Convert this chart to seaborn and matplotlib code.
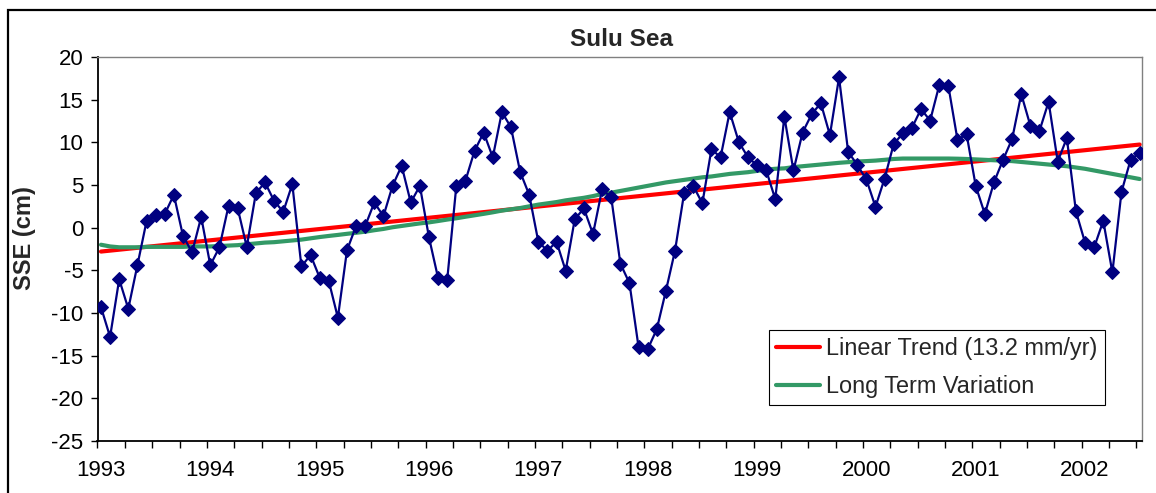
import numpy as np
import pandas as pd
import matplotlib
matplotlib.use("Agg")
import matplotlib.pyplot as plt
from matplotlib.patches import Rectangle
from matplotlib.ticker import FixedLocator
import seaborn as sns

# Monthly sea surface elevation anomaly, Sulu Sea, Jan 1993 - Jul 2002 (cm)
sse_cm = [
    -9.3, -12.8, -6.05, -9.5, -4.4, 0.75, 1.45, 1.6, 3.85, -0.95, -2.9, 1.25,
    -4.4, -2.3, 2.55, 2.3, -2.25, 4.05, 5.3, 3.15, 1.85, 5.1, -4.55, -3.2,
    -5.85, -6.25, -10.55, -2.65, 0.2, 0.2, 2.95, 1.35, 4.9, 7.25, 2.95, 4.9,
    -1.15, -5.9, -6.1, 4.9, 5.5, 9.0, 11.15, 8.25, 13.55, 11.75, 6.55, 3.85,
    -1.65, -2.7, -1.65, -5.05, 1.0, 2.25, -0.75, 4.5, 3.55, -4.2, -6.5, -14.0,
    -14.25, -11.9, -7.4, -2.7, 4.05, 4.9, 2.85, 9.2, 8.25, 13.55, 10.05, 8.25,
    7.3, 6.75, 3.35, 13.0, 6.7, 11.15, 13.3, 14.6, 10.85, 17.6, 8.9, 7.35,
    5.65, 2.45, 5.75, 9.8, 11.05, 11.7, 13.9, 12.55, 16.7, 16.6, 10.3, 10.95,
    4.9, 1.6, 5.3, 7.95, 10.4, 15.65, 11.95, 11.35, 14.75, 7.75, 10.5, 1.9,
    -1.75, -2.3, 0.8, -5.25, 4.2, 7.95, 8.8,
]

# Low-pass filtered (long term) component of the same record (cm)
long_term_cm = [
    -2.0, -2.2, -2.3, -2.3, -2.3, -2.25, -2.25, -2.25, -2.25, -2.25, -2.2, -2.2,
    -2.2, -2.15, -2.1, -2.05, -1.95, -1.85, -1.75, -1.7, -1.6, -1.5, -1.4, -1.25,
    -1.1, -0.97, -0.85, -0.72, -0.6, -0.47, -0.3, -0.15, 0.05, 0.2, 0.35, 0.5,
    0.62, 0.78, 0.95, 1.1, 1.28, 1.45, 1.62, 1.8, 2.0, 2.15, 2.3, 2.5,
    2.7, 2.85, 3.0, 3.2, 3.35, 3.5, 3.7, 3.95, 4.1, 4.3, 4.5, 4.7,
    4.9, 5.1, 5.3, 5.45, 5.6, 5.75, 5.9, 6.0, 6.15, 6.3, 6.4, 6.5,
    6.65, 6.8, 6.9, 6.95, 7.1, 7.2, 7.3, 7.4, 7.5, 7.6, 7.68, 7.75,
    7.8, 7.86, 7.95, 8.05, 8.1, 8.1, 8.1, 8.1, 8.1, 8.1, 8.08, 8.05,
    8.0, 7.95, 7.9, 7.85, 7.8, 7.7, 7.6, 7.5, 7.4, 7.3, 7.2, 7.05,
    6.9, 6.7, 6.5, 6.3, 6.1, 5.9, 5.7,
]

trend_rate_mm_per_yr = 13.2
trend_intercept_cm = -2.8
start_year = 1993
year_labels = [str(y) for y in range(1993, 2003)]
y_ticks = list(range(-25, 21, 5))

months = np.arange(len(sse_cm))
years = start_year + months / 12.0
trend_cm = trend_intercept_cm + trend_rate_mm_per_yr / 10.0 * (years - start_year)

df = pd.DataFrame({
    "year": years,
    "sse": sse_cm,
    "trend": trend_cm,
    "long_term": long_term_cm,
})

sns.set_style("white")
plt.rcParams["font.family"] = ["Liberation Sans", "DejaVu Sans"]

W, H = 1156, 493
fig = plt.figure(figsize=(W / 100, H / 100), dpi=100)


def fx(px):
    return px / W


def fy(py):
    return 1 - py / H


ax = fig.add_axes([fx(97.5), fy(441), (1142 - 97.5) / W, (441 - 57) / H])

sns.lineplot(data=df, x="year", y="trend", ax=ax, color="#FF0000", lw=3.0,
             label="Linear Trend (13.2 mm/yr)", zorder=2)
sns.lineplot(data=df, x="year", y="long_term", ax=ax, color="#339966", lw=3.0,
             label="Long Term Variation", zorder=2)
sns.lineplot(data=df, x="year", y="sse", ax=ax, color="#000080", lw=1.6,
             marker="D", markersize=7, markeredgecolor="#000080",
             markerfacecolor="#000080", zorder=3, legend=False)

# Axis range and ticks (category-style monthly axis)
ax.set_xlim(start_year - 0.38 / 12, start_year + 114.25 / 12)
ax.set_ylim(-25, 20)
ax.set_yticks(y_ticks)
ax.set_yticklabels([str(v) for v in y_ticks])
ax.set_xticks([start_year + i for i in range(len(year_labels))])
ax.set_xticklabels(year_labels)
quarter_ticks = [start_year + (-0.38 + 3 * k) / 12 for k in range(39)]
ax.xaxis.set_minor_locator(FixedLocator(quarter_ticks))

ax.tick_params(axis="x", which="major", length=0, pad=14, labelsize=16, colors="black")
ax.tick_params(axis="x", which="minor", length=5, width=1, direction="out",
               color="black", bottom=True)
ax.tick_params(axis="y", which="major", length=5, width=1, direction="out",
               pad=5, labelsize=16, colors="black", left=True)
ax.set_xlabel("")
ax.set_ylabel("")

for side in ("left", "bottom"):
    ax.spines[side].set_color("black")
    ax.spines[side].set_linewidth(1.3)
for side in ("top", "right"):
    ax.spines[side].set_color("#808080")
    ax.spines[side].set_linewidth(1.0)
    ax.spines[side].set_visible(True)

fig.text(fx(622), fy(39), "Sulu Sea", ha="center", va="center",
         fontsize=17.5, fontweight="bold")
fig.text(fx(25), fy(238), "SSE (cm)", ha="center", va="center",
         rotation=90, fontsize=17, fontweight="bold")

handles, labels = ax.get_legend_handles_labels()
leg = ax.legend(handles, labels, loc="upper left",
                bbox_to_anchor=(fx(768.5), fy(329.5)),
                bbox_transform=fig.transFigure, frameon=True, fancybox=False,
                edgecolor="black", framealpha=1, borderaxespad=0,
                fontsize=16.9, handlelength=1.9, handletextpad=0.25,
                borderpad=0.31, labelspacing=0.64)
leg.get_frame().set_linewidth(0.8)

# Chart-area border
fig.add_artist(Rectangle((fx(8), -0.1), (W + 20 - 8) / W, fy(10) + 0.1,
                         transform=fig.transFigure, fill=False,
                         edgecolor="black", linewidth=1.6))

fig.savefig("out.png", dpi=100)
